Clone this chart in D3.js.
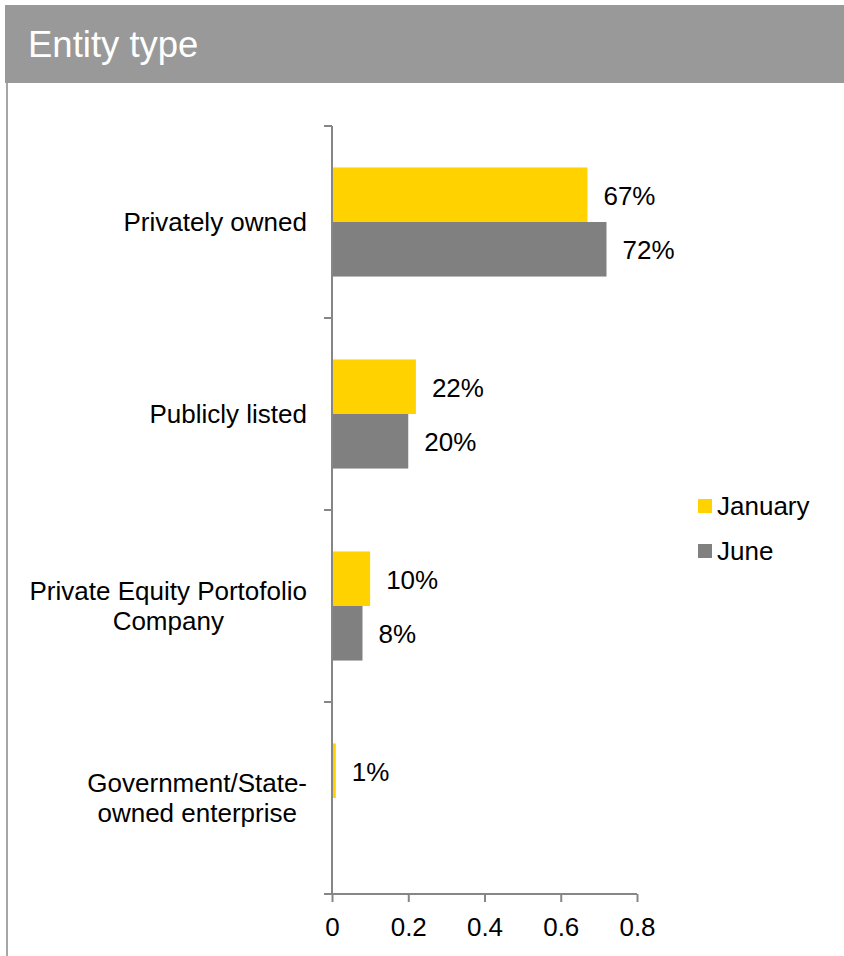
<!DOCTYPE html>
<html>
<head>
<meta charset="utf-8">
<script src="https://cdn.jsdelivr.net/npm/d3@7"></script>
<style>
  html, body { margin: 0; padding: 0; background: #ffffff; }
  svg { display: block; font-family: "Liberation Sans", Arial, sans-serif; }
</style>
</head>
<body>
<svg id="chart" width="844" height="956"></svg>
<script>
// Entity type: share of respondents, January vs June
const categories = [
  ["Privately owned"],
  ["Publicly listed"],
  ["Private Equity Portofolio", "Company"],
  ["Government/State-", "owned enterprise"]
];
const seriesNames = ["January", "June"];
const january = [0.67, 0.22, 0.10, 0.01];
const june = [0.72, 0.20, 0.08, null];
const xTicks = [0, 0.2, 0.4, 0.6, 0.8];
const seriesColors = ["#FFD200", "#808080"];

const svg = d3.select("#chart");
const axisColor = "#868686";
const fontSize = 26;

// Header band with title
svg.append("rect")
  .attr("x", 5).attr("y", 5).attr("width", 839).attr("height", 78)
  .attr("fill", "#999999");
svg.append("text")
  .attr("x", 28).attr("y", 57)
  .attr("fill", "#ffffff")
  .attr("font-size", 36.5)
  .text("Entity type");

// Left frame line below the header
svg.append("line")
  .attr("x1", 7).attr("x2", 7).attr("y1", 83).attr("y2", 956)
  .attr("stroke", "#a6a6a6").attr("stroke-width", 2);

// Scales
const x = d3.scaleLinear().domain([0, 0.8]).range([332, 637]);
const catKeys = categories.map(c => c.join(" "));
const y = d3.scaleBand().domain(catKeys).range([126, 894]).padding(0);
const ySeries = d3.scaleBand().domain(seriesNames)
  .range([0, y.bandwidth()]).paddingInner(0).paddingOuter(0.76);

const rows = catKeys.map((k, i) => ({
  key: k, lines: categories[i],
  values: [january[i], june[i]]
}));

// Bars
const groups = svg.append("g").selectAll("g")
  .data(rows).join("g")
  .attr("transform", d => `translate(0,${y(d.key)})`);

groups.selectAll("rect")
  .data(d => d.values.map((v, j) => ({ v, s: seriesNames[j], j })).filter(e => e.v != null))
  .join("rect")
  .attr("x", x(0))
  .attr("y", e => ySeries(e.s))
  .attr("width", e => x(e.v) - x(0))
  .attr("height", ySeries.bandwidth())
  .attr("fill", e => seriesColors[e.j]);

// Value labels
groups.selectAll("text.val")
  .data(d => d.values.map((v, j) => ({ v, s: seriesNames[j], j })).filter(e => e.v != null))
  .join("text")
  .attr("class", "val")
  .attr("x", e => x(e.v) + 16)
  .attr("y", e => ySeries(e.s) + ySeries.bandwidth() / 2 + 10)
  .attr("font-size", fontSize)
  .attr("fill", "#000")
  .text(e => d3.format(".0%")(e.v));

// Y axis (category boundaries)
const yAxisG = svg.append("g");
yAxisG.append("line")
  .attr("x1", x(0)).attr("x2", x(0))
  .attr("y1", 126).attr("y2", 894)
  .attr("stroke", axisColor).attr("stroke-width", 2);
const boundaries = catKeys.map(k => y(k)).concat([894]);
yAxisG.selectAll("line.tick")
  .data(boundaries).join("line")
  .attr("class", "tick")
  .attr("x1", x(0) - 8).attr("x2", x(0))
  .attr("y1", d => d).attr("y2", d => d)
  .attr("stroke", axisColor).attr("stroke-width", 2);

// Category labels: block right-aligned, lines centered within it
const labelRight = 307;
rows.forEach(r => {
  const g = svg.append("g");
  const cy = y(r.key) + y.bandwidth() / 2;
  const lh = 30;
  const texts = r.lines.map((line, i) =>
    g.append("text")
      .attr("font-size", fontSize)
      .attr("fill", "#000")
      .attr("text-anchor", "middle")
      .attr("y", cy + (i - (r.lines.length - 1) / 2) * lh + 9)
      .text(line));
  const maxW = d3.max(texts, t => t.node().getComputedTextLength());
  texts.forEach(t => t.attr("x", labelRight - maxW / 2));
});

// X axis
const xAxis = d3.axisBottom(x).tickValues(xTicks).tickSize(8).tickSizeOuter(0)
  .tickFormat(d => d === 0 ? "0" : d3.format(".1f")(d));
const xAxisG = svg.append("g")
  .attr("transform", "translate(0,894)")
  .call(xAxis);
xAxisG.select(".domain").attr("stroke", axisColor).attr("stroke-width", 2)
  .attr("d", `M${x(0) - 8},0H${x(0.8)}`);
xAxisG.selectAll(".tick line").attr("stroke", axisColor).attr("stroke-width", 2);
xAxisG.selectAll(".tick text")
  .attr("font-family", "Liberation Sans, Arial, sans-serif")
  .attr("font-size", fontSize)
  .attr("fill", "#000")
  .attr("dy", null)
  .attr("y", 42);

// Legend
const legend = svg.append("g");
seriesNames.forEach((name, i) => {
  const ly = 506 + i * 45;
  legend.append("rect")
    .attr("x", 698).attr("y", ly - 7).attr("width", 14).attr("height", 14)
    .attr("fill", seriesColors[i]);
  legend.append("text")
    .attr("x", 717).attr("y", ly + 9)
    .attr("font-size", fontSize).attr("fill", "#000")
    .text(name);
});
</script>
</body>
</html>
